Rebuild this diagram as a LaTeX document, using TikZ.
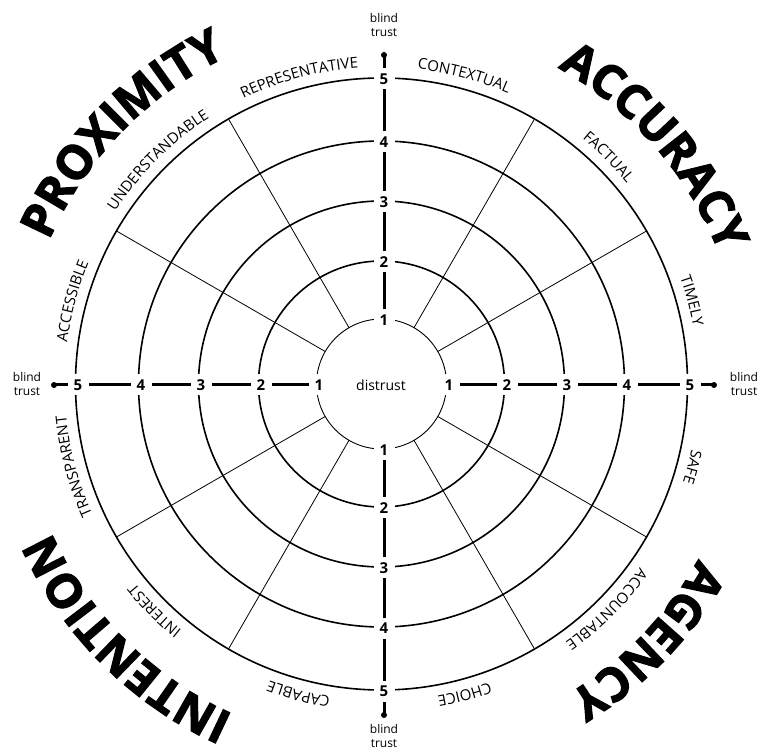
\documentclass[tikz,border=0pt]{standalone}
\usepackage{fontspec}
\setmainfont{Open Sans}
\newfontfamily\heavy{Open Sans}[BoldFeatures={FakeBold=2.5}]
\usetikzlibrary{decorations.text}
\newcommand\lblfont{\fontsize{15}{15}\selectfont}
\newcommand\bigfont{\heavy\bfseries\fontsize{47}{47}\selectfont}
\newcommand\seclabel[2]{\path[decorate,decoration={text along path,text align=center,text={|\lblfont|#2}}] ([shift={(#1+15:317)}]C) arc[start angle=#1+15,end angle=#1-15,radius=317];}
\newcommand\biglabel[2]{\path[decorate,decoration={text along path,text align=center,text={|\bigfont|#2}}] ([shift={(#1+40:362)}]C) arc[start angle=#1+40,end angle=#1-40,radius=362];}
\tikzset{
  ring/.style={line width=1.6pt},
  innerring/.style={line width=0.9pt},
  spoke/.style={line width=0.8pt},
  axisline/.style={line width=3pt},
  num/.style={font=\bfseries\fontsize{15}{15}\selectfont, fill=white, inner sep=0pt, minimum size=21pt},
  blind/.style={font=\fontsize{12}{14}\selectfont, align=center, inner sep=0pt}
}
\begin{document}
\begin{tikzpicture}[x=1pt,y=1pt]
\useasboundingbox (0,0) rectangle (770,752);
\coordinate (C) at (381.5,368);
\coordinate (A) at (384,367);
% rings
\draw[innerring] (C) circle[radius=65];
\foreach \r in {123,183,243,306} \draw[ring] (C) circle[radius=\r];
% spokes
\foreach \a in {30,60,120,150,210,240,300,330}
  \draw[spoke] ([shift={(\a:65)}]C) -- ([shift={(\a:306)}]C);
% axes
\foreach \d/\ang in {t/90,l/180,r/0,b/270}{
  \coordinate (dot\d) at ([shift={(\ang:330)}]A);
  \coordinate (start\d) at ([shift={(\ang:65)}]A);
  \draw[axisline] (start\d) -- (dot\d);
  \fill (dot\d) circle[radius=3];
}
% numbers
\foreach \k/\r in {1/65,2/123,3/183,4/243,5/306}
  \foreach \d/\ang in {t/90,l/180,r/0,b/270}
    \node[num] (n\d\k) at ([shift={(\ang:\r)}]A) {\k};
% center
\node[font=\fontsize{14}{16}\selectfont] (dist) at (381,367) {distrust};
% blind trust
\node[blind] (bt) at (384,727) {blind\\trust};
\node[blind] (bl) at (27,368) {blind\\trust};
\node[blind] (br) at (744,368) {blind\\trust};
\node[blind] (bb) at (384,16) {blind\\trust};
% sector labels
\seclabel{165}{ACCESSIBLE}
\seclabel{135}{UNDERSTANDABLE}
\seclabel{105}{REPRESENTATIVE}
\seclabel{75}{CONTEXTUAL}
\seclabel{45}{FACTUAL}
\seclabel{15}{TIMELY}
\seclabel{-15}{SAFE}
\seclabel{-45}{ACCOUNTABLE}
\seclabel{-75}{CHOICE}
\seclabel{-105}{CAPABLE}
\seclabel{-135}{INTEREST}
\seclabel{-165}{TRANSPARENT}
% big labels
\biglabel{136}{PROXIMITY}
\biglabel{41}{ACCURACY}
\biglabel{225}{INTENTION}
\biglabel{316}{AGENCY}
\end{tikzpicture}
\end{document}
